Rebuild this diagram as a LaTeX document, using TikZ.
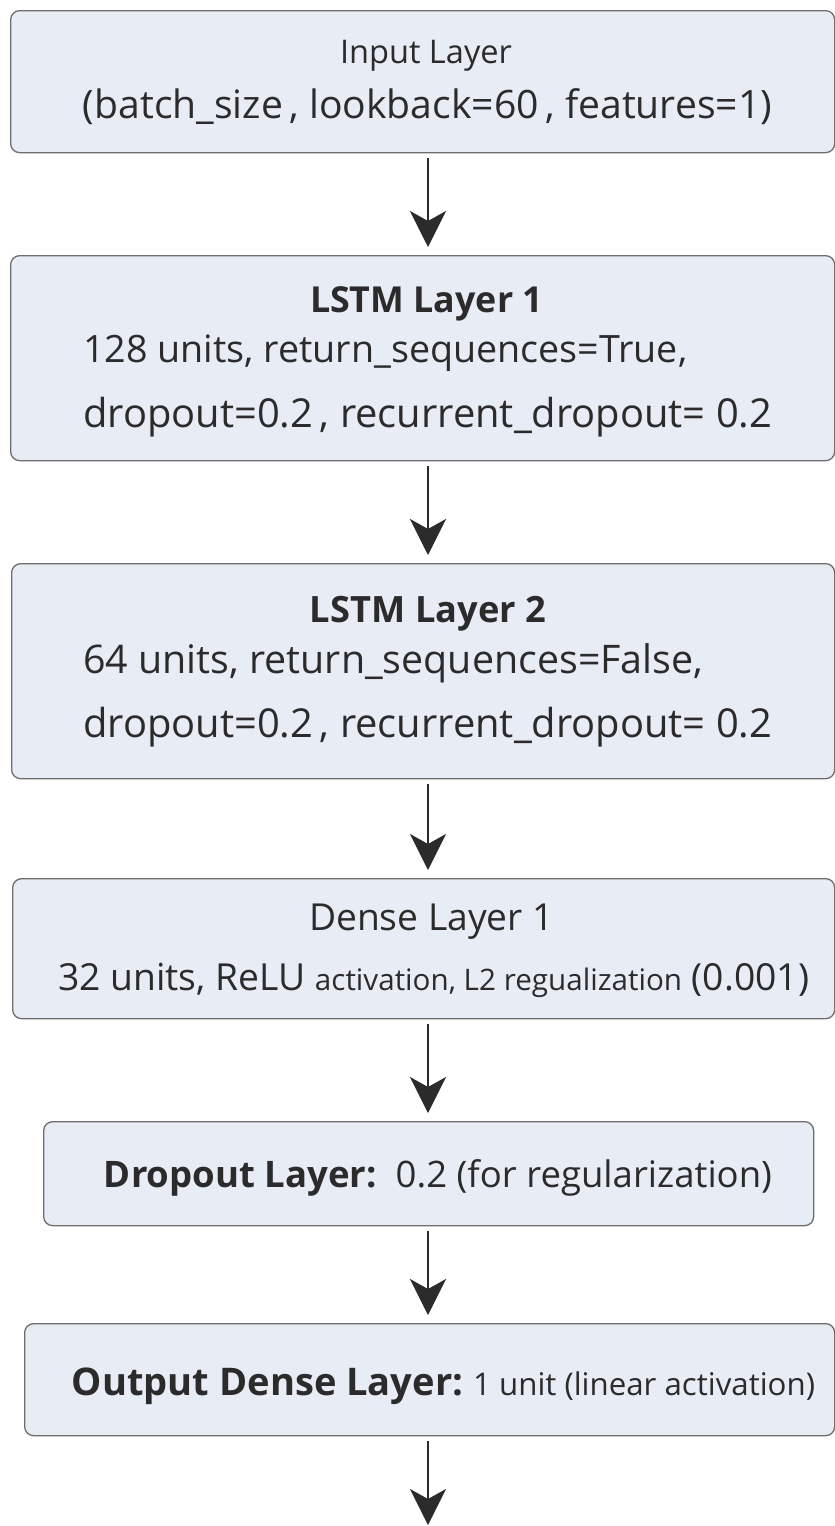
\documentclass[tikz,border=0pt]{standalone}
\usepackage{fontspec}
\setmainfont{Open Sans}
\usetikzlibrary{arrows.meta}
\definecolor{boxfill}{HTML}{E8ECF5}
\definecolor{boxdraw}{HTML}{6E6E6E}
\definecolor{ink}{HTML}{2B2B2B}
\newcommand\fitto[2]{\resizebox{#1}{!}{#2}}
\begin{document}
\begin{tikzpicture}[x=1pt,y=-1pt,
  layerbox/.style={draw=boxdraw, fill=boxfill, line width=1.3pt, rounded corners=9pt, inner sep=0pt, anchor=north west},
  lbl/.style={inner sep=0pt, text=ink, font=\fontsize{39}{47}\selectfont},
  arr/.style={draw=ink, line width=2.6pt, -{Stealth[length=36pt,width=36pt,inset=10pt]}, shorten <=5pt, shorten >=8pt}]
\fill[white] (0,0) rectangle (835,1526);
\useasboundingbox (0,0) rectangle (835,1526);
% boxes
\node[layerbox, minimum width=824pt, minimum height=142pt] (in) at (10,10) {};
\node[layerbox, minimum width=824pt, minimum height=205pt] (l1) at (10,255) {};
\node[layerbox, minimum width=823pt, minimum height=215pt] (l2) at (11,563) {};
\node[layerbox, minimum width=822pt, minimum height=140pt] (d1) at (12,878) {};
\node[layerbox, minimum width=770pt, minimum height=104pt] (dr) at (43,1121) {};
\node[layerbox, minimum width=810pt, minimum height=112pt] (out) at (24,1323) {};
% texts
\node[lbl, anchor=base] (tin1) at (426,63) {\fitto{172pt}{Input Layer}};
\node[lbl, anchor=base] (tin2) at (427.5,118) {\fitto{689pt}{(batch\_size\,, lookback=60\,, features=1)}};
\node[lbl, anchor=base] (tl1a) at (426.5,312) {\fitto{233pt}{\bfseries LSTM Layer 1}};
\node[lbl, anchor=base west] (tl1b) at (83,362) {\fitto{604pt}{128 units, return\_sequences=True,}};
\node[lbl, anchor=base west] (tl1c) at (83,427) {\fitto{689pt}{dropout=0.2\,, recurrent\_dropout= 0.2}};
\node[lbl, anchor=base] (tl2a) at (428,622) {\fitto{236pt}{\bfseries LSTM Layer 2}};
\node[lbl, anchor=base west] (tl2b) at (83,673) {\fitto{620pt}{64 units, return\_sequences=False,}};
\node[lbl, anchor=base west] (tl2c) at (83,737) {\fitto{689pt}{dropout=0.2\,, recurrent\_dropout= 0.2}};
\node[lbl, anchor=base] (td1a) at (431.5,930) {\fitto{245pt}{Dense Layer 1}};
\node[lbl, anchor=base] (td1b) at (433.5,990) {\fitto{751pt}{32 units, ReLU {\fontsize{31}{37}\selectfont activation, L2 regualization} (0.001)}};
\node[lbl, anchor=base] (tdr) at (438,1187) {\fitto{668pt}{{\bfseries Dropout Layer:}\ \ 0.2 (for regularization)}};
\node[lbl, anchor=base] (tout) at (443.5,1395) {\fitto{743pt}{{\bfseries Output Dense Layer:}\ {\fontsize{32}{38}\selectfont 1 unit (linear activation)}}};
% arrows
\coordinate (ax) at (428,0);
\coordinate (end) at (428,1526);
\draw[arr] (in.south -| ax) -- (l1.north -| ax);
\draw[arr] (l1.south -| ax) -- (l2.north -| ax);
\draw[arr] (l2.south -| ax) -- (d1.north -| ax);
\draw[arr] (d1.south -| ax) -- (dr.north -| ax);
\draw[arr] (dr.south -| ax) -- (out.north -| ax);
\draw[arr, shorten >=1pt] (out.south -| ax) -- (end);
\end{tikzpicture}
\end{document}
